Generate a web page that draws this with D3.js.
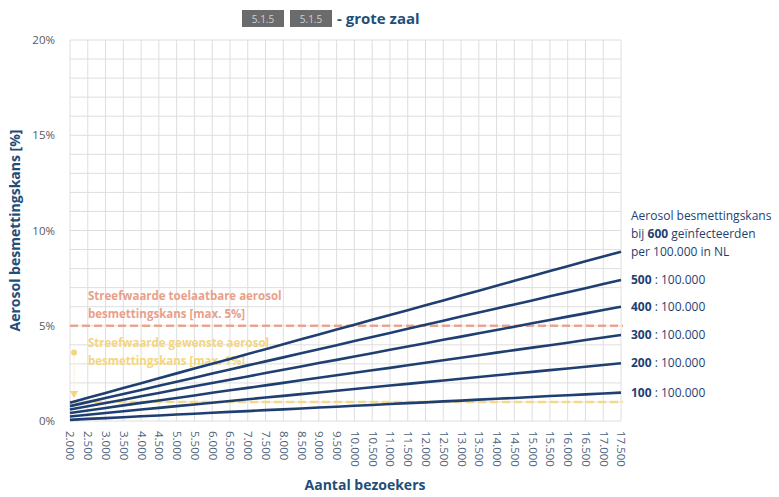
<!DOCTYPE html>
<html>
<head>
<meta charset="utf-8">
<script src="https://cdn.jsdelivr.net/npm/d3@7"></script>
<style>
  body { margin: 0; background: #fff; }
  svg { font-family: "Open Sans", "Noto Sans", sans-serif; }
</style>
</head>
<body>
<div id="chart"></div>
<script>
// Aantal bezoekers (categorieen)
const visitors = [2000, 2500, 3000, 3500, 4000, 4500, 5000, 5500, 6000, 6500, 7000, 7500,
  8000, 8500, 9000, 9500, 10000, 10500, 11000, 11500, 12000, 12500, 13000, 13500,
  14000, 14500, 15000, 15500, 16000, 16500, 17000, 17500];

// besmettingskans in % per aantal geinfecteerden per 100.000
const inf600 = [0.96, 1.22, 1.47, 1.73, 1.98, 2.24, 2.50, 2.75, 3.01, 3.26, 3.52, 3.77, 4.03, 4.29, 4.54, 4.80,
  5.05, 5.31, 5.56, 5.82, 6.08, 6.33, 6.59, 6.84, 7.10, 7.36, 7.61, 7.87, 8.12, 8.38, 8.63, 8.89];
const inf500 = [0.78, 0.99, 1.21, 1.42, 1.63, 1.85, 2.06, 2.27, 2.49, 2.70, 2.92, 3.13, 3.34, 3.56, 3.77, 3.98,
  4.20, 4.41, 4.62, 4.84, 5.05, 5.26, 5.48, 5.69, 5.91, 6.12, 6.33, 6.55, 6.76, 6.97, 7.19, 7.40];
const inf400 = [0.60, 0.77, 0.95, 1.12, 1.30, 1.47, 1.65, 1.82, 1.99, 2.17, 2.34, 2.52, 2.69, 2.86, 3.04, 3.21,
  3.39, 3.56, 3.74, 3.91, 4.08, 4.26, 4.43, 4.61, 4.78, 4.95, 5.13, 5.30, 5.48, 5.65, 5.83, 6.00];
const inf300 = [0.42, 0.55, 0.68, 0.82, 0.95, 1.08, 1.21, 1.34, 1.48, 1.61, 1.74, 1.87, 2.00, 2.14, 2.27, 2.40,
  2.53, 2.66, 2.79, 2.93, 3.06, 3.19, 3.32, 3.45, 3.59, 3.72, 3.85, 3.98, 4.11, 4.25, 4.38, 4.51];
const inf200 = [0.24, 0.33, 0.42, 0.51, 0.60, 0.69, 0.78, 0.87, 0.96, 1.05, 1.14, 1.23, 1.32, 1.41, 1.50, 1.59,
  1.68, 1.77, 1.86, 1.95, 2.04, 2.13, 2.22, 2.31, 2.40, 2.49, 2.58, 2.67, 2.76, 2.85, 2.94, 3.03];
const inf100 = [0.06, 0.11, 0.15, 0.20, 0.25, 0.29, 0.34, 0.38, 0.43, 0.48, 0.52, 0.57, 0.61, 0.66, 0.71, 0.75,
  0.80, 0.84, 0.89, 0.94, 0.98, 1.03, 1.07, 1.12, 1.17, 1.21, 1.26, 1.31, 1.35, 1.40, 1.44, 1.49];

const seriesNames = ["600", "500", "400", "300", "200", "100"];
const seriesValues = [inf600, inf500, inf400, inf300, inf200, inf100];

const yTicks = [0, 5, 10, 15, 20];
const yGrid = d3.range(0, 21, 1);
const maxAllowed = 5;   // streefwaarde toelaatbaar
const maxWanted = 1;    // streefwaarde gewenst
const yellowMarks = [3.6, 1.45];

const W = 779, H = 497;
const m = { left: 70, right: 158, top: 40, bottom: 76 };

const svg = d3.select('#chart').append('svg')
  .attr('width', W).attr('height', H);

const x = d3.scalePoint().domain(visitors).range([m.left, W - m.right]);
const y = d3.scaleLinear().domain([0, 20]).range([H - m.bottom, m.top]);

const nl = d3.formatLocale({ decimal: ',', thousands: '.', grouping: [3], currency: ['€', ''] });
const fmt = nl.format(',.3~f');

// grid
const grid = svg.append('g');
grid.selectAll('line.v').data(visitors).enter().append('line')
  .attr('x1', d => x(d)).attr('x2', d => x(d))
  .attr('y1', y(0)).attr('y2', y(20))
  .attr('stroke', '#dedede').attr('stroke-width', 1);
grid.selectAll('line.h').data(yGrid).enter().append('line')
  .attr('x1', x(visitors[0])).attr('x2', x(visitors[visitors.length - 1]))
  .attr('y1', d => y(d)).attr('y2', d => y(d))
  .attr('stroke', '#dedede').attr('stroke-width', 1);

// y axis labels
const yAxis = svg.append('g')
  .attr('transform', `translate(${m.left - 12},0)`)
  .call(d3.axisLeft(y).tickValues(yTicks).tickSize(0).tickFormat(d => d + '%'));
yAxis.select('.domain').remove();
yAxis.selectAll('text').attr('fill', '#595959').style('font-size', '11.5px')
  .style('font-family', '"Open Sans", sans-serif');

// x axis labels (rotated)
const xAxis = svg.append('g')
  .attr('transform', `translate(0,${y(0) + 6})`)
  .call(d3.axisBottom(x).tickSize(0).tickFormat(d => fmt(d)));
xAxis.select('.domain').remove();
xAxis.selectAll('text')
  .attr('transform', 'rotate(90)')
  .attr('x', 4).attr('y', 0).attr('dy', '0.35em')
  .style('text-anchor', 'start')
  .attr('fill', '#4a5f7a').style('font-size', '11.5px')
  .style('font-family', '"Open Sans", sans-serif');

// reference lines
svg.append('line')
  .attr('x1', x(visitors[0])).attr('x2', x(visitors[visitors.length - 1]) + 2)
  .attr('y1', y(maxAllowed)).attr('y2', y(maxAllowed))
  .attr('stroke', '#e9a591').attr('stroke-width', 2.5).attr('stroke-dasharray', '8,4');
svg.append('line')
  .attr('x1', x(visitors[0])).attr('x2', x(visitors[visitors.length - 1]) + 2)
  .attr('y1', y(maxWanted)).attr('y2', y(maxWanted))
  .attr('stroke', '#f5d98a').attr('stroke-width', 2.5).attr('stroke-dasharray', '8,4');

// yellow markers
svg.append('line')
  .attr('x1', x(visitors[0]) + 4).attr('x2', x(visitors[0]) + 4)
  .attr('y1', y(yellowMarks[0])).attr('y2', y(yellowMarks[1]))
  .attr('stroke', '#fbf0d3').attr('stroke-width', 1);
svg.append('circle')
  .attr('cx', x(visitors[0]) + 4).attr('cy', y(yellowMarks[0])).attr('r', 3)
  .attr('fill', '#f5d47e');
svg.append('path')
  .attr('d', d3.symbol(d3.symbolTriangle, 30))
  .attr('transform', `translate(${x(visitors[0]) + 4},${y(yellowMarks[1])}) rotate(180)`)
  .attr('fill', '#f5d47e');

// annotations
const ann = svg.append('g').style('font-weight', 700).style('font-size', '11.5px');
ann.append('text').attr('x', 88).attr('y', 300).attr('fill', '#e9a08a')
  .text('Streefwaarde toelaatbare aerosol');
ann.append('text').attr('x', 88).attr('y', 318).attr('fill', '#e9a08a')
  .text('besmettingskans [max. 5%]');
ann.append('text').attr('x', 88).attr('y', 347).attr('fill', '#f3d67e')
  .text('Streefwaarde gewenste aerosol');
ann.append('text').attr('x', 88).attr('y', 365).attr('fill', '#f3d67e')
  .text('besmettingskans [max. 1%]');

// series lines
const line = d3.line().x((d, i) => x(visitors[i])).y(d => y(d));
svg.append('g').selectAll('path').data(seriesValues).enter().append('path')
  .attr('d', d => line(d))
  .attr('fill', 'none').attr('stroke', '#1f3f72').attr('stroke-width', 2.6);

// series labels
const lx = W - m.right + 10;
const labels = svg.append('g').style('font-size', '12px').attr('fill', '#1f3f72');
seriesValues.forEach((vals, i) => {
  const yy = y(vals[vals.length - 1]);
  if (i === 0) {
    labels.append('text').attr('x', lx).attr('y', yy - 36).attr('dy', '0.35em')
      .text('Aerosol besmettingskans');
    const t = labels.append('text').attr('x', lx).attr('y', yy - 18).attr('dy', '0.35em');
    t.append('tspan').text('bij ');
    t.append('tspan').style('font-weight', 700).text(seriesNames[i]);
    t.append('tspan').text(' geïnfecteerden');
    labels.append('text').attr('x', lx).attr('y', yy).attr('dy', '0.35em')
      .text('per 100.000  in NL');
  } else {
    const t = labels.append('text').attr('x', lx).attr('y', yy).attr('dy', '0.35em');
    t.append('tspan').style('font-weight', 700).text(seriesNames[i]);
    t.append('tspan').text(' : 100.000');
  }
});

// axis titles
svg.append('text')
  .attr('transform', `translate(20,${(y(0) + y(20)) / 2}) rotate(-90)`)
  .attr('text-anchor', 'middle').attr('fill', '#1f4e79')
  .style('font-weight', 700).style('font-size', '14px')
  .text('Aerosol besmettingskans [%]');
svg.append('text')
  .attr('x', 365).attr('y', 490)
  .attr('text-anchor', 'middle').attr('fill', '#1f4e79')
  .style('font-weight', 700).style('font-size', '14px')
  .text('Aantal bezoekers');

// title
const title = svg.append('g');
[[242, '5.1.5'], [290, '5.1.5']].forEach(([bx, txt]) => {
  title.append('rect').attr('x', bx).attr('y', 10).attr('width', 42).attr('height', 17)
    .attr('fill', '#6b6b6b');
  title.append('text').attr('x', bx + 21).attr('y', 19).attr('dy', '0.35em')
    .attr('text-anchor', 'middle').attr('fill', '#d0d0d0').style('font-size', '10px')
    .text(txt);
});
title.append('text').attr('x', 337).attr('y', 19).attr('dy', '0.35em')
  .attr('fill', '#1f4e79').style('font-weight', 700).style('font-size', '15px')
  .text('- grote zaal');
</script>
</body>
</html>
